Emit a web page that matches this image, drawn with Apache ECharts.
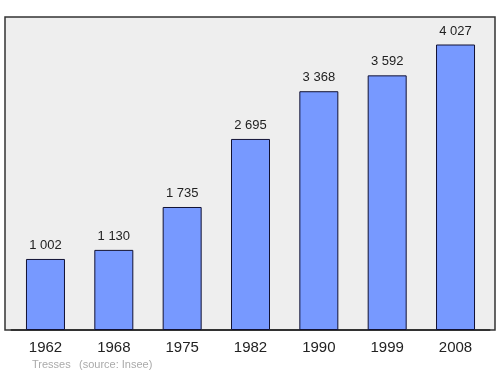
<!DOCTYPE html>
<html><head><meta charset="utf-8">
<script src="https://cdn.jsdelivr.net/npm/echarts@6/dist/echarts.min.js"></script>
<style>html,body{margin:0;padding:0;background:#fff}#c{width:500px;height:374px}</style>
</head><body><div id="c"></div>
<script>
const years = ['1962','1968','1975','1982','1990','1999','2008'];
const population = [1002, 1130, 1735, 2695, 3368, 3592, 4027];
const commune = 'Tresses';
const source = '(source: Insee)';

const F = '"Liberation Sans", Arial, sans-serif';
const fmt = v => String(v).replace(/\B(?=(\d{3})+(?!\d))/g, '\u00a0');
const chart = echarts.init(document.getElementById('c'), null, {renderer:'canvas'});
chart.setOption({
  animation:false,
  backgroundColor:'#ffffff',
  graphic:[
    {type:'rect', z:-10, shape:{x:5,y:17,width:490,height:313}, style:{fill:'#eeeeee', stroke:'#333333', lineWidth:1.5}},
    {type:'text', left:32, top:359, style:{text:commune, fill:'#aaaaaa', font:'11px ' + F}},
    {type:'text', left:79, top:359, style:{text:source, fill:'#aaaaaa', font:'11px ' + F}}
  ],
  grid:{left:11.3, right:10.3, top:17, bottom:44, containLabel:false},
  xAxis:{type:'category', data:years,
    axisLine:{show:true, lineStyle:{color:'#222', width:1.5}}, axisTick:{show:false},
    axisLabel:{color:'#222', fontSize:15, fontFamily:F, margin:10}},
  yAxis:{type:'value', min:0, max:4415, show:false, splitLine:{show:false}},
  series:[{type:'bar', data:population, barWidth:39,
    itemStyle:{color:'#7799ff', borderColor:'#111133', borderWidth:1},
    label:{show:true, position:'top', distance:7, color:'#222', fontSize:13,
      fontFamily:F, formatter:p=>fmt(p.value)}
  }]
});
</script></body></html>
